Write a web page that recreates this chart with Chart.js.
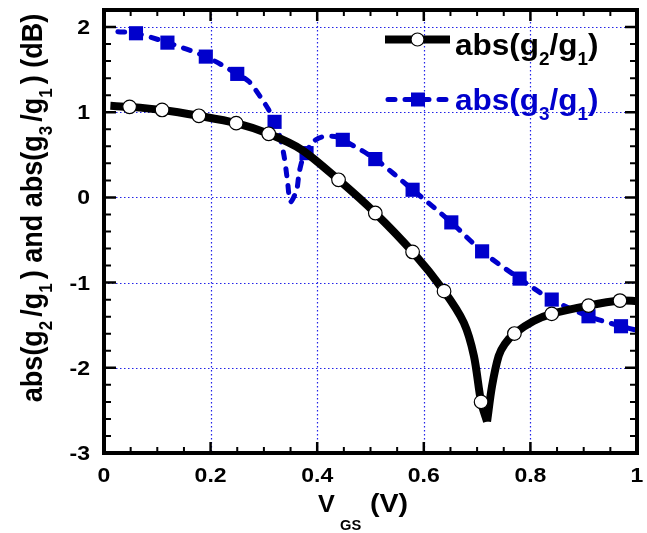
<!DOCTYPE html>
<html>
<head>
<meta charset="utf-8">
<script src="https://cdn.jsdelivr.net/npm/chart.js@4.4.0/dist/chart.umd.min.js"></script>
<style>
    html, body { margin: 0; padding: 0; background: #fff; }
</style>
</head>
<body>
<canvas id="gainChart" width="647" height="533"></canvas>
<script>
// axis ticks
const xTicks = [0, 0.2, 0.4, 0.6, 0.8, 1];
const xTickLabels = ['0', '0.2', '0.4', '0.6', '0.8', '1'];
const yTicks = [2, 1, 0, -1, -2, -3];
const yTickLabels = ['2', '1', '0', '-1', '-2', '-3'];

// abs(g2/g1): traced curve and the marked points on it
const g2CurveX = [0.012, 0.048, 0.109, 0.178, 0.248, 0.309, 0.371, 0.44, 0.509, 0.579, 0.638, 0.675, 0.694, 0.7075, 0.7187, 0.728, 0.7405, 0.752, 0.770, 0.806, 0.840, 0.909, 0.968, 1.0];
const g2CurveY = [1.075, 1.063, 1.027, 0.958, 0.872, 0.747, 0.559, 0.207, -0.183, -0.64, -1.10, -1.47, -1.86, -2.40, -2.63, -2.215, -1.86, -1.72, -1.598, -1.45, -1.367, -1.27, -1.211, -1.215];
const g2MarkX = [0.048, 0.109, 0.178, 0.248, 0.309, 0.44, 0.509, 0.579, 0.638, 0.7075, 0.770, 0.840, 0.909, 0.968];
const g2MarkY = [1.063, 1.027, 0.958, 0.872, 0.747, 0.207, -0.183, -0.64, -1.10, -2.40, -1.598, -1.367, -1.27, -1.211];

// abs(g3/g1)
const g3CurveX = [0.026, 0.060, 0.119, 0.191, 0.250, 0.272, 0.293, 0.309, 0.320, 0.330, 0.338, 0.344, 0.350, 0.3615, 0.366, 0.374, 0.380, 0.389, 0.408, 0.433, 0.448, 0.509, 0.579, 0.6516, 0.7094, 0.7797, 0.840, 0.909, 0.970, 1.0];
const g3CurveY = [1.946, 1.927, 1.817, 1.653, 1.450, 1.36, 1.184, 1.028, 0.887, 0.715, 0.48, 0.207, -0.05, 0.09, 0.286, 0.48, 0.520, 0.637, 0.708, 0.715, 0.676, 0.450, 0.09, -0.293, -0.633, -0.953, -1.199, -1.395, -1.512, -1.56];
const g3MarkX = [0.060, 0.119, 0.191, 0.250, 0.320, 0.380, 0.448, 0.509, 0.579, 0.6516, 0.7094, 0.7797, 0.840, 0.909, 0.970];
const g3MarkY = [1.927, 1.817, 1.653, 1.450, 0.887, 0.520, 0.676, 0.450, 0.09, -0.293, -0.633, -0.953, -1.199, -1.395, -1.512];

const BLACK = '#000000';
const BLUE = '#0000cc';
const GRID_BLUE = 'rgba(10, 10, 230, 0.9)';
const FONT = '"Liberation Sans", Arial, sans-serif';

let toPts = (xs, ys) => xs.map((x, i) => ({ x: x, y: ys[i] }));

// the g2 curve has a sharp dip: split it there so each branch ends on the tip
const g2Pts = toPts(g2CurveX, g2CurveY);
const cusp = g2CurveY.indexOf(Math.min(...g2CurveY));
const g2Left = g2Pts.slice(0, cusp + 1);
const g2Right = g2Pts.slice(cusp);

// text pieces, sub = subscript
const legendG2 = [{ t: 'abs(g' }, { t: '2', sub: true }, { t: '/g' }, { t: '1', sub: true }, { t: ')' }];
const legendG3 = [{ t: 'abs(g' }, { t: '3', sub: true }, { t: '/g' }, { t: '1', sub: true }, { t: ')' }];
const yTitle = [
    { t: 'abs(g' }, { t: '2', sub: true }, { t: '/g' }, { t: '1', sub: true },
    { t: ') and abs(g' }, { t: '3', sub: true }, { t: '/g' }, { t: '1', sub: true }, { t: ') (dB)' }
];

// draws text with subscripts starting at (0, 0) on the baseline
function drawRich(ctx, parts, size, subSize, drop, gap) {
    let w = 0;
    parts.forEach(p => {
        ctx.font = 'bold ' + (p.sub ? subSize : size) + 'px ' + FONT;
        ctx.fillText(p.t, w, p.sub ? drop : 0);
        w += ctx.measureText(p.t).width + (p.sub ? gap : 0);
    });
    return w;
}

function richWidth(ctx, parts, size, subSize, gap) {
    let w = 0;
    parts.forEach(p => {
        ctx.font = 'bold ' + (p.sub ? subSize : size) + 'px ' + FONT;
        w += ctx.measureText(p.t).width + (p.sub ? gap : 0);
    });
    return w;
}

function drawWide(ctx, text, x, y, size, sx, align) {
    ctx.save();
    ctx.translate(x, y);
    ctx.scale(sx, 1);
    ctx.font = 'bold ' + size + 'px ' + FONT;
    ctx.textAlign = align;
    ctx.textBaseline = 'alphabetic';
    ctx.fillText(text, 0, 0);
    ctx.restore();
}

const axisDecor = {
    id: 'axisDecor',
    beforeDatasetsDraw(chart) {
        const { ctx, chartArea: a, scales: { x, y } } = chart;
        ctx.save();
        ctx.strokeStyle = GRID_BLUE;
        ctx.lineWidth = 1.2;
        ctx.setLineDash([1.5, 2.5]);
        xTicks.forEach(v => {
            if (v <= 0 || v >= 1) return;
            const px = Math.round(x.getPixelForValue(v)) + 0.5;
            ctx.beginPath();
            ctx.moveTo(px, a.top);
            ctx.lineTo(px, a.bottom);
            ctx.stroke();
        });
        yTicks.forEach(v => {
            if (v <= -3) return;
            const py = Math.round(y.getPixelForValue(v)) + 0.5;
            ctx.beginPath();
            ctx.moveTo(a.left, py);
            ctx.lineTo(a.right, py);
            ctx.stroke();
        });
        ctx.restore();
    },
    afterDatasetsDraw(chart) {
        const { ctx, chartArea: a, scales: { x, y } } = chart;
        ctx.save();
        ctx.strokeStyle = BLACK;
        ctx.fillStyle = BLACK;

        // inward ticks on all four sides
        for (let i = 0; i <= 20; i++) {
            const major = i % 4 === 0;
            const px = x.getPixelForValue(i * 0.05);
            const len = major ? 11 : 6;
            ctx.lineWidth = major ? 2.5 : 2;
            ctx.beginPath();
            ctx.moveTo(px, a.bottom); ctx.lineTo(px, a.bottom - len);
            ctx.moveTo(px, a.top); ctx.lineTo(px, a.top + len);
            ctx.stroke();
        }
        for (let i = 0; i <= 26; i++) {
            const major = i % 5 === 0;
            const py = y.getPixelForValue(-3 + i * 0.2);
            const len = major ? 12 : 7;
            ctx.lineWidth = major ? 2.5 : 2;
            ctx.beginPath();
            ctx.moveTo(a.left, py); ctx.lineTo(a.left + len, py);
            ctx.moveTo(a.right, py); ctx.lineTo(a.right - len, py);
            ctx.stroke();
        }

        ctx.lineWidth = 4;
        ctx.strokeRect(a.left, a.top, a.right - a.left, a.bottom - a.top);

        // tick labels
        xTicks.forEach((v, i) => drawWide(ctx, xTickLabels[i], x.getPixelForValue(v), 482, 20, 1.15, 'center'));
        yTicks.forEach((v, i) => drawWide(ctx, yTickLabels[i], 90, y.getPixelForValue(v) + 7, 20, 1.15, 'right'));

        // x title: V_GS (V)
        drawWide(ctx, 'V', 318, 512, 24, 1.05, 'left');
        drawWide(ctx, 'GS', 340, 530, 14, 1.05, 'left');
        drawWide(ctx, '(V)', 370, 512, 26, 1.1, 'left');

        // y title, rotated
        ctx.save();
        ctx.translate(42, 208);
        ctx.rotate(-Math.PI / 2);
        ctx.scale(1, 1.1);
        ctx.textAlign = 'left';
        ctx.textBaseline = 'alphabetic';
        const tw = richWidth(ctx, yTitle, 27, 17, 4);
        ctx.translate(-tw / 2, 0);
        drawRich(ctx, yTitle, 27, 17, 9, 4);
        ctx.restore();

        // legend
        ctx.lineWidth = 8;
        ctx.beginPath();
        ctx.moveTo(385, 39.5); ctx.lineTo(450, 39.5);
        ctx.stroke();
        ctx.fillStyle = '#ffffff';
        ctx.lineWidth = 1.2;
        ctx.beginPath();
        ctx.arc(417.5, 39.5, 6.5, 0, Math.PI * 2);
        ctx.fill();
        ctx.stroke();

        ctx.strokeStyle = BLUE;
        ctx.fillStyle = BLUE;
        ctx.lineWidth = 5;
        ctx.setLineDash([7, 10]);
        ctx.lineCap = 'round';
        ctx.beginPath();
        ctx.moveTo(388, 99.5); ctx.lineTo(450, 99.5);
        ctx.stroke();
        ctx.setLineDash([]);
        ctx.fillRect(418 - 7, 99.5 - 7, 14, 14);

        ctx.textAlign = 'left';
        ctx.textBaseline = 'alphabetic';
        ctx.save();
        ctx.translate(455, 55);
        ctx.scale(1.05, 1);
        ctx.fillStyle = BLACK;
        drawRich(ctx, legendG2, 30, 18, 10, 0);
        ctx.restore();
        ctx.save();
        ctx.translate(455, 110);
        ctx.scale(1.05, 1);
        ctx.fillStyle = BLUE;
        drawRich(ctx, legendG3, 30, 18, 10, 0);
        ctx.restore();

        ctx.restore();
    }
};

const g2Line = {
    borderColor: BLACK,
    borderWidth: 8,
    pointRadius: 0,
    tension: 0.3,
    fill: false
};

let ctx = document.getElementById('gainChart').getContext('2d');
let gainChart = new Chart(ctx, {
    type: 'line',
    data: {
        datasets: [
            {
                label: 'abs(g2/g1) points',
                data: toPts(g2MarkX, g2MarkY),
                showLine: false,
                pointStyle: 'circle',
                pointRadius: 6.8,
                pointBackgroundColor: '#ffffff',
                pointBorderColor: BLACK,
                pointBorderWidth: 1.2
            },
            Object.assign({ label: 'abs(g2/g1)', data: g2Left }, g2Line),
            Object.assign({ label: 'abs(g2/g1) right', data: g2Right }, g2Line),
            {
                label: 'abs(g3/g1) points',
                data: toPts(g3MarkX, g3MarkY),
                showLine: false,
                pointStyle: 'rect',
                pointRadius: 10,
                pointBackgroundColor: BLUE,
                pointBorderColor: BLUE,
                pointBorderWidth: 0
            },
            {
                label: 'abs(g3/g1)',
                data: toPts(g3CurveX, g3CurveY),
                borderColor: BLUE,
                borderWidth: 5,
                borderDash: [7, 10],
                borderCapStyle: 'round',
                pointRadius: 0,
                tension: 0.3,
                fill: false
            }
        ]
    },
    options: {
        responsive: false,
        animation: false,
        devicePixelRatio: 1,
        layout: {
            padding: { left: 104, right: 6, top: 10, bottom: 80 }
        },
        scales: {
            x: { type: 'linear', min: 0, max: 1, display: false },
            y: { type: 'linear', min: -3, max: 2.2, display: false }
        },
        plugins: {
            legend: { display: false },
            tooltip: { enabled: false }
        }
    },
    plugins: [axisDecor]
});
</script>
</body>
</html>
